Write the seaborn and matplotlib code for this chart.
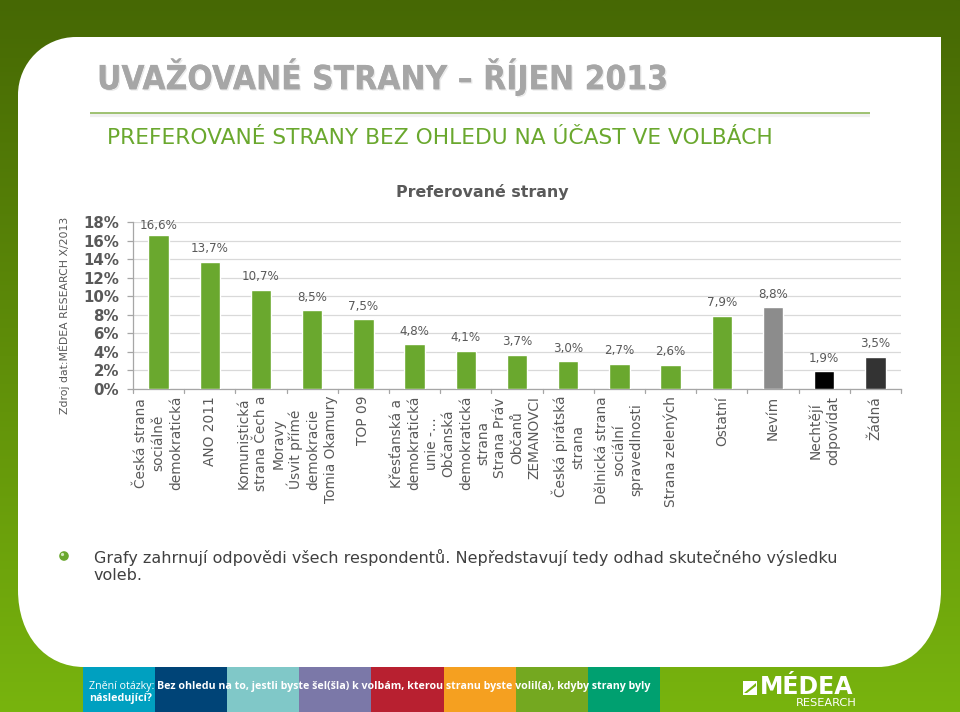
import numpy as np
import matplotlib
matplotlib.use("Agg")
import matplotlib.pyplot as plt
import matplotlib.patheffects as pe
from matplotlib.path import Path
from matplotlib.patches import PathPatch, Rectangle, Circle, Polygon
import pandas as pd
import seaborn as sns

categories = ["Česká strana\nsociálně\ndemokratická", "ANO 2011", "Komunistická\nstrana Čech a\nMoravy",
              "Úsvit přímé\ndemokracie\nTomia Okamury", "TOP 09", "Křesťanská a\ndemokratická\nunie -…",
              "Občanská\ndemokratická\nstrana", "Strana Práv\nObčanů\nZEMANOVCI", "Česká pirátská\nstrana",
              "Dělnická strana\nsociální\nspravedlnosti", "Strana zelených", "Ostatní", "Nevím",
              "Nechtějí\nodpovídat", "Žádná"]
values = [16.6, 13.7, 10.7, 8.5, 7.5, 4.8, 4.1, 3.7, 3.0, 2.7, 2.6, 7.9, 8.8, 1.9, 3.5]
bar_colors = ["#6aa82e"] * 12 + ["#8c8c8c", "#000000", "#333333"]
y_ticks = [0, 2, 4, 6, 8, 10, 12, 14, 16, 18]
band_colors = ["#00a0c0", "#004477", "#80c8c8", "#7b78a8", "#b82030", "#f5a020", "#74a820", "#00a070"]

sns.set_theme(style="white")
plt.rcParams["font.family"] = ["DejaVu Sans"]
W, H = 960, 712
fig = plt.figure(figsize=(W / 100, H / 100), dpi=100)

# page decoration in pixel coordinates
bg = fig.add_axes([0, 0, 1, 1], zorder=0)
bg.set_xlim(0, W); bg.set_ylim(H, 0); bg.axis("off")
grad = np.linspace(0, 1, 256)[:, None, None]
top = np.array([0x46, 0x68, 0x04]) / 255
bot = np.array([0x78, 0xb4, 0x0e]) / 255
bg.imshow(top + (bot - top) * grad, extent=(0, W, H, 0), aspect="auto", zorder=0)

C4 = Path.CURVE4
panel = Path(
    [(18, 95), (18, 63), (44, 37), (76, 37), (941, 37), (941, 590), (941, 635), (915, 667), (878, 667),
     (84, 667), (45, 667), (18, 635), (18, 590), (18, 95)],
    [Path.MOVETO, C4, C4, C4, Path.LINETO, Path.LINETO, C4, C4, C4,
     Path.LINETO, C4, C4, C4, Path.CLOSEPOLY])
bg.add_patch(PathPatch(panel, fc="white", ec="none", zorder=1))

bg.plot([90, 870], [115, 115], color="#f0f0f0", lw=3, zorder=2, solid_capstyle="butt")
bg.plot([90, 870], [112.5, 112.5], color="#8fb85a", lw=1.2, zorder=3, solid_capstyle="butt")

bg.text(97, 77, "UVAŽOVANÉ STRANY – ŘÍJEN 2013", fontsize=24, fontweight="bold", color="#a6a6a6",
        va="center", ha="left", zorder=4, fontstretch="condensed",
        path_effects=[pe.withSimplePatchShadow(offset=(1, -1), shadow_rgbFace="#dddddd", alpha=0.6), pe.Normal()])
bg.text(107, 138, "PREFEROVANÉ STRANY BEZ OHLEDU NA ÚČAST VE VOLBÁCH", fontsize=15.65, color="#6aa82e",
        va="center", ha="left", zorder=4)
bg.text(482, 192, "Preferované strany", fontsize=11.4, fontweight="bold", color="#595959",
        va="center", ha="center", zorder=4)
bg.text(64, 315, "Zdroj dat:MÉDEA RESEARCH X/2013", fontsize=7.85, color="#595959", rotation=90,
        va="center", ha="center", zorder=4)

bg.add_patch(Circle((64, 556), 4.8, fc="#6aa82e", ec="none", zorder=4))
bg.add_patch(Circle((62.5, 554.5), 1.6, fc="#d5e8bf", ec="none", zorder=5))
bg.text(94, 557, "Grafy zahrnují odpovědi všech respondentů. Nepředstavují tedy odhad skutečného výsledku",
        fontsize=11.55, color="#404040", va="center", ha="left", zorder=4)
bg.text(94, 575, "voleb.", fontsize=11.55, color="#404040", va="center", ha="left", zorder=4)

band_w = 72.2
for i, c in enumerate(band_colors):
    bg.add_patch(Rectangle((82.5 + i * band_w, 667), band_w, 45, fc=c, ec="none", zorder=2))
bg.text(89, 687, "Znění otázky:", fontsize=7.7, color="white", va="center", ha="left", zorder=4, family="Open Sans")
bg.text(157, 687, "Bez ohledu na to, jestli byste šel(šla) k volbám, kterou stranu byste volil(a), kdyby strany byly",
        fontsize=7.7, color="white", fontweight="bold", va="center", ha="left", zorder=4, family="Open Sans")
bg.text(89, 698, "následující?", fontsize=7.7, color="white", fontweight="bold", va="center", ha="left",
        zorder=4, family="Open Sans")
bg.add_patch(Rectangle((743, 681), 14, 14, fc="white", ec="none", zorder=4))
bg.add_patch(Polygon([(744, 693), (756, 683), (756, 686), (747, 693)], fc="#78b40e", ec="none", zorder=5))
bg.text(760, 687, "MÉDEA", fontsize=17, fontweight="bold", color="white", va="center", ha="left", zorder=4)
bg.text(857, 703, "RESEARCH", fontsize=8.2, color="white", va="center", ha="right", zorder=4)

# chart
L, R, T, B = 133, 901, 222, 389
ax = fig.add_axes([L / W, 1 - B / H, (R - L) / W, (B - T) / H], zorder=2)
ax.patch.set_alpha(0)
df = pd.DataFrame({"strana": categories, "hodnota": values})
sns.barplot(data=df, x="strana", y="hodnota", hue="strana", palette=bar_colors, dodge=False,
            legend=False, width=0.4, saturation=1, ax=ax, zorder=3)
ax.set_xlim(-0.5, len(categories) - 0.5)
ax.set_ylim(0, 18)
ax.set_xlabel(""); ax.set_ylabel("")
ax.set_yticks(y_ticks)
ax.set_yticklabels([f"{t}%" for t in y_ticks], fontsize=10.8, fontweight="bold", color="#595959")
ax.yaxis.grid(True, color="#d9d9d9", lw=0.9, zorder=0)
ax.xaxis.grid(False)
for s in ["top", "right"]:
    ax.spines[s].set_visible(False)
for s in ["left", "bottom"]:
    ax.spines[s].set_color("#a6a6a6"); ax.spines[s].set_linewidth(0.9)
ax.set_xticks(np.arange(len(categories)))
ax.set_xticklabels(categories, rotation=90, fontsize=9.9, color="#595959", ha="center", va="top",
                   multialignment="center", linespacing=1.3)
ax.tick_params(axis="x", length=0, pad=5)
ax.tick_params(axis="y", length=4, width=0.9, color="#a6a6a6", left=True, pad=6)
for edge in np.arange(-0.5, len(categories)):
    ax.plot([edge, edge], [0, -0.45], color="#a6a6a6", lw=0.9, clip_on=False, zorder=2)

for i, v in enumerate(values):
    ax.annotate(f"{v:.1f}%".replace(".", ","), xy=(i, v), xytext=(0, 9 if i == 0 else 13), textcoords="offset pixels",
                ha="center", va="center", fontsize=8.6, color="#595959", zorder=5)

fig.savefig("out.png", dpi=100)
